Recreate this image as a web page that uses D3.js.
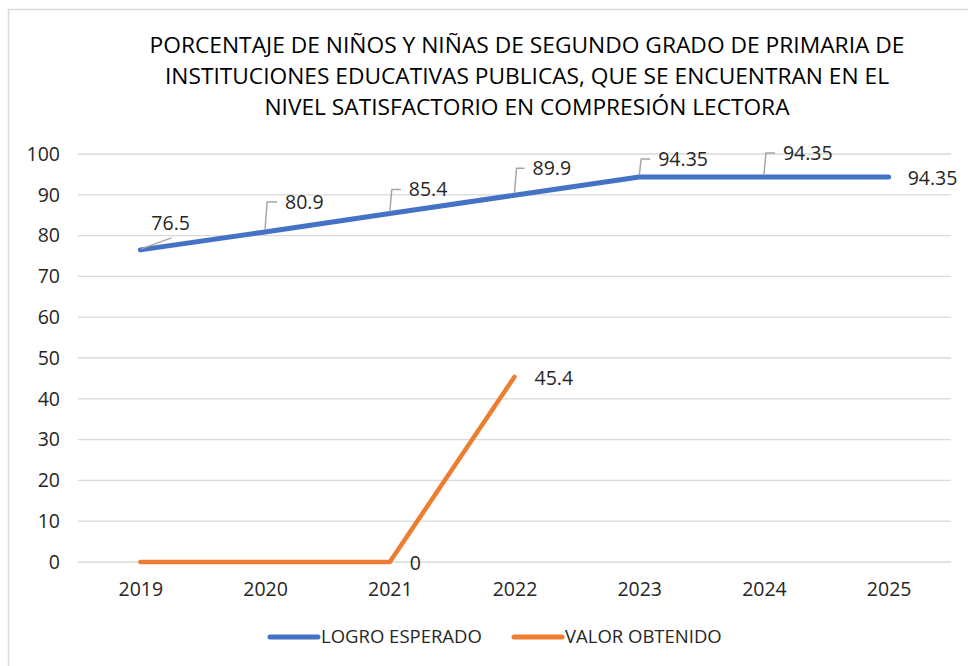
<!DOCTYPE html>
<html>
<head>
<meta charset="utf-8">
<script src="https://cdn.jsdelivr.net/npm/d3@7/dist/d3.min.js"></script>
<style>
  body { margin: 0; background: #fff; }
  svg { display: block; font-family: "Open Sans", "Noto Sans", sans-serif; }
</style>
</head>
<body>
<svg id="chart" width="968" height="666"></svg>
<script>
// data
const years = ["2019", "2020", "2021", "2022", "2023", "2024", "2025"];
const logroEsperado = [76.5, 80.9, 85.4, 89.9, 94.35, 94.35, 94.35];
const valorObtenido = [0, 0, 0, 45.4, null, null, null];
const yTicks = [0, 10, 20, 30, 40, 50, 60, 70, 80, 90, 100];
const titleLines = [
  "PORCENTAJE  DE NIÑOS Y NIÑAS DE SEGUNDO GRADO DE PRIMARIA DE",
  "INSTITUCIONES EDUCATIVAS PUBLICAS, QUE SE ENCUENTRAN EN EL",
  "NIVEL SATISFACTORIO EN COMPRESIÓN LECTORA"
];
const seriesNames = ["LOGRO ESPERADO", "VALOR OBTENIDO"];

// label placement (offset from point, in px) - layout only
const blueLabelOffsets = [
  { dx: 11, dy: -27, leader: "diag" },
  { dx: 20, dy: -30, leader: "bracket" },
  { dx: 19, dy: -24, leader: "bracket" },
  { dx: 18, dy: -27, leader: "bracket" },
  { dx: 19, dy: -18, leader: "bracket" },
  { dx: 19, dy: -24, leader: "bracket" },
  { dx: 19, dy: 1, leader: "none" }
];
const orangeLabelOffsets = [null, null, { dx: 20, dy: 1 }, { dx: 20, dy: 1 }];

const svg = d3.select("#chart");
const margin = { left: 78, right: 17, top: 154, bottom: 104 };
const W = 968, H = 666;
const numSize = 19.5, legSize = 18.5;

// outer frame
svg.append("rect")
  .attr("x", 8.5).attr("y", 9.5)
  .attr("width", W).attr("height", H)
  .attr("fill", "none").attr("stroke", "#d9d9d9").attr("stroke-width", 1.5);

const x = d3.scalePoint().domain(years)
  .range([margin.left, W - margin.right]).padding(0.5);
const y = d3.scaleLinear().domain([0, 100]).range([H - margin.bottom, margin.top]);

// title
svg.append("g").selectAll("text").data(titleLines).join("text")
  .attr("x", 527).attr("y", (d, i) => 53 + i * 31)
  .attr("text-anchor", "middle")
  .attr("font-size", 21).attr("fill", "#000")
  .attr("textLength", (d, i) => [755, 724, 525][i])
  .attr("lengthAdjust", "spacingAndGlyphs")
  .text(d => d);

// grid
svg.append("g").selectAll("line").data(yTicks).join("line")
  .attr("x1", margin.left).attr("x2", W - margin.right)
  .attr("y1", d => y(d)).attr("y2", d => y(d))
  .attr("stroke", "#d9d9d9").attr("stroke-width", 1.3);

// y axis
const yAxis = svg.append("g")
  .attr("transform", `translate(${margin.left},0)`)
  .call(d3.axisLeft(y).tickValues(yTicks).tickSize(0).tickPadding(18));
yAxis.select(".domain").remove();
yAxis.selectAll("text").attr("font-size", numSize).attr("fill", "#262626")
  .attr("font-family", "Open Sans, sans-serif");

// x axis
const xAxis = svg.append("g")
  .attr("transform", `translate(0,${y(0)})`)
  .call(d3.axisBottom(x).tickSize(0).tickPadding(20));
xAxis.select(".domain").remove();
xAxis.selectAll("text").attr("font-size", numSize).attr("fill", "#262626")
  .attr("font-family", "Open Sans, sans-serif");

const blue = "#4472C4", orange = "#ED7D31";

const line = d3.line()
  .defined(d => d.v != null)
  .x(d => x(d.year)).y(d => y(d.v));

const blueData = years.map((yr, i) => ({ year: yr, v: logroEsperado[i] }));
const orangeData = years.map((yr, i) => ({ year: yr, v: valorObtenido[i] }));

svg.append("path").datum(blueData)
  .attr("d", line).attr("fill", "none")
  .attr("stroke", blue).attr("stroke-width", 5)
  .attr("stroke-linecap", "round").attr("stroke-linejoin", "round");

svg.append("path").datum(orangeData)
  .attr("d", line).attr("fill", "none")
  .attr("stroke", orange).attr("stroke-width", 4.5)
  .attr("stroke-linecap", "round").attr("stroke-linejoin", "round");

// data labels, blue series
const leaderColor = "#a6a6a6";
const labels = svg.append("g");
blueData.forEach((d, i) => {
  const o = blueLabelOffsets[i];
  const px = x(d.year), py = y(d.v);
  const lx = px + o.dx, ly = py + o.dy;
  if (o.leader === "bracket") {
    labels.append("path")
      .attr("d", `M${px},${py - 2}L${px + 2},${ly}L${lx - 8},${ly}`)
      .attr("fill", "none").attr("stroke", leaderColor).attr("stroke-width", 1.5);
  } else if (o.leader === "diag") {
    labels.append("path")
      .attr("d", `M${px + 1},${py - 1}L${px + 31},${py - 12}`)
      .attr("fill", "none").attr("stroke", leaderColor).attr("stroke-width", 1.5);
  }
  labels.append("text")
    .attr("x", lx).attr("y", ly).attr("dy", "0.35em")
    .attr("font-size", numSize).attr("fill", "#262626")
    .text(d3.format("")(d.v));
});

// data labels, orange series
orangeData.forEach((d, i) => {
  const o = orangeLabelOffsets[i];
  if (!o || d.v == null) return;
  labels.append("text")
    .attr("x", x(d.year) + o.dx).attr("y", y(d.v) + o.dy).attr("dy", "0.35em")
    .attr("font-size", numSize).attr("fill", "#262626")
    .text(d.v);
});

// legend
const legend = svg.append("g").attr("transform", "translate(0,637)");
const legendItems = [
  { name: seriesNames[0], color: blue, x: 270 },
  { name: seriesNames[1], color: orange, x: 514 }
];
legendItems.forEach(it => {
  legend.append("line")
    .attr("x1", it.x).attr("x2", it.x + 48)
    .attr("stroke", it.color).attr("stroke-width", 5).attr("stroke-linecap", "round");
  legend.append("text")
    .attr("x", it.x + 51).attr("dy", "0.35em")
    .attr("font-size", legSize).attr("fill", "#262626")
    .text(it.name);
});
</script>
</body>
</html>
